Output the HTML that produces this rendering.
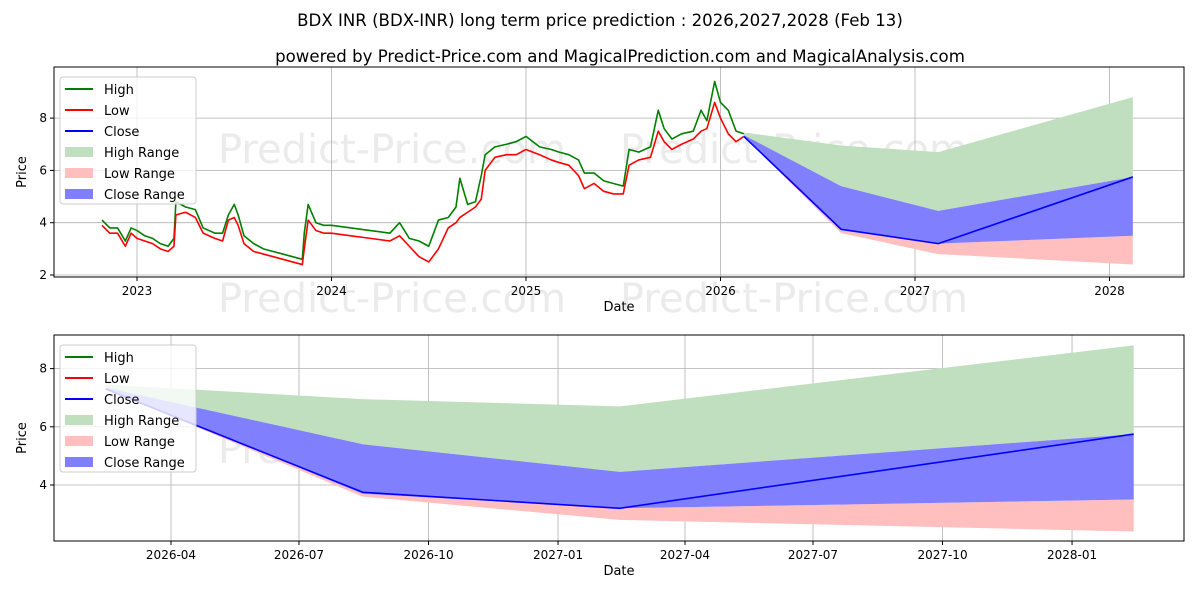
<!DOCTYPE html>
<html><head><meta charset="utf-8"><style>
body{margin:0;background:#fff;font-family:"Liberation Sans","DejaVu Sans",sans-serif}
svg text{font-family:"DejaVu Sans","Liberation Sans",sans-serif}
</style></head><body>
<svg id="c" width="1200" height="600">
<text x="600" y="26" font-size="16.6" text-anchor="middle">BDX INR (BDX-INR) long term price prediction : 2026,2027,2028 (Feb 13)</text>
<text x="620" y="62" font-size="16.6" text-anchor="middle">powered by Predict-Price.com and MagicalPrediction.com and MagicalAnalysis.com</text>
</svg>
<script>
const histDates=[2022.82,2022.86,2022.9,2022.94,2022.97,2023.0,2023.04,2023.08,2023.12,2023.16,2023.19,2023.2,2023.25,2023.3,2023.34,2023.4,2023.44,2023.47,2023.5,2023.52,2023.55,2023.6,2023.65,2023.7,2023.75,2023.8,2023.85,2023.86,2023.88,2023.92,2023.96,2024.0,2024.1,2024.2,2024.3,2024.35,2024.4,2024.45,2024.5,2024.55,2024.6,2024.64,2024.66,2024.7,2024.74,2024.77,2024.79,2024.84,2024.9,2024.95,2025.0,2025.07,2025.13,2025.17,2025.22,2025.27,2025.3,2025.35,2025.4,2025.45,2025.5,2025.53,2025.58,2025.64,2025.68,2025.71,2025.75,2025.8,2025.86,2025.9,2025.93,2025.97,2026.0,2026.04,2026.08,2026.12];
const histHigh=[4.1,3.8,3.8,3.3,3.8,3.7,3.5,3.4,3.2,3.1,3.4,4.8,4.6,4.5,3.8,3.6,3.6,4.3,4.7,4.3,3.5,3.2,3.0,2.9,2.8,2.7,2.6,3.6,4.7,4.0,3.9,3.9,3.8,3.7,3.6,4.0,3.4,3.3,3.1,4.1,4.2,4.6,5.7,4.7,4.8,5.8,6.6,6.9,7.0,7.1,7.3,6.9,6.8,6.7,6.6,6.4,5.9,5.9,5.6,5.5,5.4,6.8,6.7,6.9,8.3,7.6,7.2,7.4,7.5,8.3,7.9,9.4,8.6,8.3,7.5,7.4];
const histLow=[3.9,3.6,3.6,3.1,3.6,3.4,3.3,3.2,3.0,2.9,3.1,4.3,4.4,4.2,3.6,3.4,3.3,4.1,4.2,3.9,3.2,2.9,2.8,2.7,2.6,2.5,2.4,3.0,4.1,3.7,3.6,3.6,3.5,3.4,3.3,3.5,3.1,2.7,2.5,3.0,3.8,4.0,4.2,4.4,4.6,4.9,6.0,6.5,6.6,6.6,6.8,6.6,6.4,6.3,6.2,5.8,5.3,5.5,5.2,5.1,5.1,6.2,6.4,6.5,7.5,7.1,6.8,7.0,7.2,7.5,7.6,8.6,8.0,7.4,7.1,7.3];
const predDates=[2026.12,2026.62,2027.12,2028.12];
const predHighUpper=[7.45,6.95,6.7,8.8];
const predCloseUpper=[7.35,5.4,4.45,5.75];
const predClose=[7.3,3.75,3.2,5.75];
const predCloseLower=[7.3,3.7,3.2,3.5];
const predLowLower=[7.3,3.6,2.8,2.4];
const topYTicks=[2,4,6,8];
const topXTicks=[2023,2024,2025,2026,2027,2028];
const botYTicks=[4,6,8];
const botXTicks=[2026.247,2026.496,2026.748,2027.0,2027.247,2027.496,2027.748,2028.0];
const botXLabels=["2026-04","2026-07","2026-10","2027-01","2027-04","2027-07","2027-10","2028-01"];

const NS="http://www.w3.org/2000/svg";const svg=document.getElementById('c');
function mk(t,a,p){const e=document.createElementNS(NS,t);for(const k in a)e.setAttribute(k,a[k]);(p||svg).appendChild(e);return e;}
function panel(P){
 const g=mk('g',{});
 
 
 const clip=mk('clipPath',{id:P.name+'-clip'},g);mk('rect',{x:P.x0,y:P.y0,width:P.x1-P.x0,height:P.y1-P.y0},clip);
 [[218,P.wm1],[620,P.wm1],[218,P.wm2],[620,P.wm2]].forEach(w=>{if(w[1]==null)return;const t=mk('text',{x:w[0],y:w[1],'font-size':40,fill:'#ebebeb'},g);t.textContent='Predict-Price.com';});
 P.xt.forEach((v,i)=>{const x=P.X(v);mk('line',{x1:x,x2:x,y1:P.y0,y2:P.y1,stroke:'#b0b0b0','stroke-width':0.8},g);mk('line',{x1:x,x2:x,y1:P.y1,y2:P.y1+4,stroke:'#000'},g);const t=mk('text',{x:x,y:P.y1+18,'font-size':12,'text-anchor':'middle'},g);t.textContent=P.xl[i];});
 P.yt.forEach(v=>{const y=P.Y(v);mk('line',{x1:P.x0,x2:P.x1,y1:y,y2:y,stroke:'#b0b0b0','stroke-width':0.8},g);mk('line',{x1:P.x0-4,x2:P.x0,y1:y,y2:y,stroke:'#000'},g);const t=mk('text',{x:P.x0-7,y:y+4,'font-size':12,'text-anchor':'end'},g);t.textContent=v;});
 const cg=mk('g',{'clip-path':'url(#'+P.name+'-clip)'},g);
 function band(lo,hi,fill,name){let d='';predDates.forEach((t,i)=>{d+=(i?'L':'M')+P.X(t)+','+P.Y(hi[i]);});for(let i=predDates.length-1;i>=0;i--)d+='L'+P.X(predDates[i])+','+P.Y(lo[i]);const e=mk('path',{d:d+'Z',fill:fill},cg);}
 band(predCloseUpper,predHighUpper,'#bfdfbf','high-range-band');
 band(predLowLower,predCloseLower,'#ffbfbf','low-range-band');
 band(predCloseLower,predCloseUpper,'#8080ff','close-range-band');
 function line(xs,ys,col,name){const d=xs.map((t,i)=>(i?'L':'M')+P.X(t)+','+P.Y(ys[i])).join('');const e=mk('path',{d:d,fill:'none',stroke:col,'stroke-width':1.6,'stroke-linejoin':'round'},cg);}
 if(P.hist){line(histDates,histHigh,'#008000','high-line');line(histDates,histLow,'#ff0000','low-line');}
 line(predDates,predClose,'#0000ff','close-prediction-line');
 mk('rect',{x:P.x0,y:P.y0,width:P.x1-P.x0,height:P.y1-P.y0,fill:'none',stroke:'#000','stroke-width':1},g);
 let t=mk('text',{x:619,y:P.y1+34,'font-size':13,'text-anchor':'middle'},g);t.textContent='Date';
 const cy=(P.y0+P.y1)/2;t=mk('text',{x:26,y:cy,'font-size':13,'text-anchor':'middle',transform:'rotate(-90 26 '+cy+')'},g);t.textContent='Price';
 const lg=mk('g',{},g);
 mk('rect',{x:P.x0+6,y:P.y0+10,width:136,height:127,rx:3,fill:'#fff','fill-opacity':0.8,stroke:'#ccc'},lg);
 const items=[['High','#008000',0],['Low','#ff0000',0],['Close','#0000ff',0],['High Range','#bfdfbf',1],['Low Range','#ffbfbf',1],['Close Range','#8080ff',1]];
 items.forEach((it,i)=>{const y=P.y0+22+i*21;if(it[2])mk('rect',{x:P.x0+11,y:y-5,width:28,height:10,fill:it[1]},lg);else mk('line',{x1:P.x0+11,x2:P.x0+39,y1:y,y2:y,stroke:it[1],'stroke-width':2},lg);const tt=mk('text',{x:P.x0+50,y:y+5,'font-size':13},lg);tt.textContent=it[0];});
}
panel({name:'top-panel',x0:54,x1:1184,y0:67,y1:277,wm1:163,wm2:312,hist:true,
 X:t=>137+(t-2023)*194.5,Y:v=>275-(v-2)*26.15,xt:topXTicks,xl:topXTicks.map(String),yt:topYTicks});
panel({name:'bottom-panel',x0:54,x1:1184,y0:335,y1:541,wm1:463,wm2:null,hist:false,
 X:t=>171+(t-2026.247)*514,Y:v=>485-(v-4)*29.1,xt:botXTicks,xl:botXLabels,yt:botYTicks});
</script>
</body></html>
